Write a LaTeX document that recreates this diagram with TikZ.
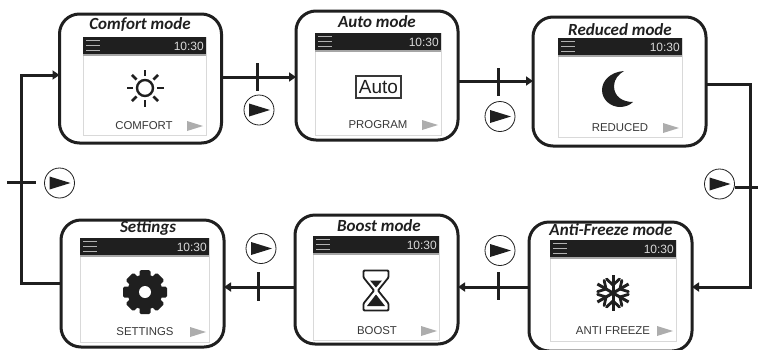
\documentclass[tikz,border=0pt]{standalone}
\usepackage{fontspec}
\setmainfont{Liberation Sans}
\newfontfamily\titlefont{Carlito}
\usetikzlibrary{arrows.meta,calc}
\definecolor{ink}{gray}{0.12}
\definecolor{labelgray}{gray}{0.22}
\definecolor{tri}{gray}{0.68}
\tikzset{
  x=1pt,y=-1pt,
  modebox/.style={draw=ink,line width=3pt,rounded corners=20pt,fill=white,inner sep=0pt,outer sep=0pt},
  modetitle/.style={font=\titlefont\bfseries\itshape\fontsize{17}{17}\selectfont,text=ink,inner sep=0pt},
  scrlabel/.style={font=\fontsize{11.4}{11.4}\selectfont,text=labelgray,inner sep=0pt},
  scrtime/.style={font=\fontsize{12}{12}\selectfont,text=white!85!black,inner sep=0pt,anchor=east},
  link/.style={draw=ink,line width=3pt,-{Triangle[length=7pt,width=9pt]}},
  tickmark/.style={draw=ink,line width=3pt},
  pumpc/.style={draw=ink,line width=0.8pt,circle,minimum size=30pt,inner sep=0pt,outer sep=0pt,fill=white},
}
% #1 name, #2 x0, #3 y0, #4 x1, #5 y1 (screen), #6 label, #7 label x, #8 label y, #9 arrow x
\newcommand{\modescreen}[9]{%
  \fill[white] (#2,#3) rectangle (#4,#5);
  \draw[gray!30,line width=0.8pt] (#2,#3) rectangle (#4,#5);
  \fill[gray!70] (#2,#3+16) rectangle (#4,#3+19);
  \fill[ink] (#2,#3) rectangle (#4,#3+17);
  \foreach \dy in {3.5,8.5,13.5}{\draw[white!70!black,line width=1.5pt] (#2+3,#3+\dy) -- (#2+17,#3+\dy);}
  \node[scrtime] (#1time) at (#4-2,#3+9.5) {10:30};
  \node[scrlabel] (#1label) at (#7,#8) {#6};
  \fill[tri] (#9,#8-5) -- (#9+16,#8) -- (#9,#8+5) -- cycle;
}
% #1 name, #2 cx, #3 cy
\newcommand{\pumpsign}[3]{%
  \node[pumpc] (#1) at (#2,#3) {};
  \fill[ink] (#2-10,#3-6.5) -- (#2+11,#3) -- (#2-10,#3+6.5) -- cycle;
}
\begin{document}
\begin{tikzpicture}
\useasboundingbox (0,0) rectangle (758,349);
\fill[white] (0,0) rectangle (758,349);

% boxes
\node[modebox,minimum width=162pt,minimum height=129pt] (nComfort) at (140.5,78.5) {};
\node[modebox,minimum width=162pt,minimum height=129pt] (nAuto) at (377,75.5) {};
\node[modebox,minimum width=173pt,minimum height=129pt] (nReduced) at (619.5,81.5) {};
\node[modebox,minimum width=163pt,minimum height=127pt] (nSettings) at (142.5,283.5) {};
\node[modebox,minimum width=163pt,minimum height=129pt] (nBoost) at (376.5,279.5) {};
\node[modebox,minimum width=163pt,minimum height=129pt] (nAnti) at (610.5,286.5) {};

% titles
\node[modetitle] (tComfort) at (140,25) {Comfort mode};
\node[modetitle] (tAuto) at (377,22) {Auto mode};
\node[modetitle] (tReduced) at (620,30) {Reduced mode};
\node[modetitle] (tSettings) at (148,228) {Settings};
\node[modetitle] (tBoost) at (379,226) {Boost mode};
\node[modetitle] (tAnti) at (611,230) {Anti-Freeze mode};

% screens
\modescreen{sComfort}{83}{37}{206}{135}{COMFORT}{144}{126}{187}
\modescreen{sAuto}{315}{33}{441}{135}{PROGRAM}{378}{125}{422}
\modescreen{sReduced}{558}{38}{682}{137}{REDUCED}{620}{128}{663}
\modescreen{sSettings}{80}{238}{209}{342}{SETTINGS}{145}{332}{190}
\modescreen{sBoost}{313}{236}{439}{340}{BOOST}{377}{331}{421}
\modescreen{sAnti}{550}{240}{676}{341}{ANTI FREEZE}{613}{331}{657}

% sun
\begin{scope}[shift={(145,88)}]
  \draw[ink,line width=2.4pt] (0,0) circle (8);
  \foreach \a in {0,45,...,315}{\draw[ink,line width=2.8pt] (\a:12) -- (\a:18.5);}
\end{scope}

% Auto
\node[draw=labelgray,line width=1.2pt,minimum width=45pt,minimum height=22pt,inner sep=0pt,
      font=\fontsize{19}{19}\selectfont,text=ink] (iconAuto) at (378.5,87) {Auto};

% moon
\begin{scope}[shift={(618,89)}]
  \fill[ink] (6,-18) .. controls (-8,-17) and (-16,-8) .. (-16,1)
     .. controls (-16,11) and (-7,18) .. (2,18)
     .. controls (7,18) and (12,16) .. (15,13)
     .. controls (5,13) and (-4,8) .. (-4,-3)
     .. controls (-4,-10) and (1,-15) .. (6,-18) -- cycle;
\end{scope}

% gear
\begin{scope}[shift={(145,292)}]
  \fill[ink] (0,0) circle (17.5);
  \foreach \a in {0,45,...,315}{\fill[ink,rotate=\a,rounded corners=1.5pt] (-5.5,-22) rectangle (5.5,-10);}
  \fill[white] (0,0) circle (6);
\end{scope}

% hourglass
\begin{scope}[shift={(376,290.5)}]
  \draw[ink,line width=1.8pt,rounded corners=1pt] (-12.5,-20) -- (12.5,-20) -- (12.5,-13) -- (2,0) -- (12.5,13) -- (12.5,20) -- (-12.5,20) -- (-12.5,13) -- (-2,0) -- (-12.5,-13) -- cycle;
  \fill[ink] (-6,-10) -- (6,-10) -- (0,-3) -- cycle;
  \fill[ink] (-9,15.5) -- (9,15.5) -- (0,4) -- cycle;
\end{scope}

% snowflake
\begin{scope}[shift={(613,293)}]
  \foreach \a in {30,90,...,330}{
    \draw[ink,line width=3pt,rotate=\a] (0,0) -- (18,0);
    \draw[ink,line width=2.8pt,rotate=\a,line cap=round] (14,-6.5) -- (8,0) -- (14,6.5);
  }
\end{scope}

% connectors
\draw[link] (nComfort.east |- 0,77) -- (nAuto.west |- 0,77);
\draw[link] (nAuto.east |- 0,81) -- (nReduced.west |- 0,81);
\coordinate (cornerR1) at (750,84);
\coordinate (cornerR2) at (750,287);
\draw[link] (nReduced.east |- cornerR1) -- (cornerR1) -- (cornerR2) -- (nAnti.east |- cornerR2);
\draw[link] (nAnti.west |- 0,287) -- (nBoost.east |- 0,287);
\draw[link] (nBoost.west |- 0,287) -- (nSettings.east |- 0,287);
\coordinate (cornerL1) at (21,283);
\coordinate (cornerL2) at (21,75);
\draw[link] (nSettings.west |- cornerL1) -- (cornerL1) -- (cornerL2) -- (nComfort.west |- cornerL2);

% ticks
\draw[tickmark] (257.5,63) -- (257.5,91);
\draw[tickmark] (498,68) -- (498,96);
\draw[tickmark] (735,187) -- (758,187);
\draw[tickmark] (498,272) -- (498,300);
\draw[tickmark] (258,272) -- (258,301);
\draw[tickmark] (7,182.5) -- (36,182.5);

% pump signs
\pumpsign{pA}{259}{110}
\pumpsign{pB}{500}{116.5}
\pumpsign{pC}{719.5}{184}
\pumpsign{pD}{500}{250.5}
\pumpsign{pE}{261}{248.5}
\pumpsign{pF}{59.5}{183}
\end{tikzpicture}
\end{document}
